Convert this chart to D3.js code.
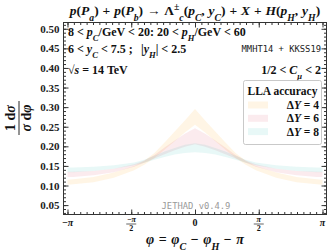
<!DOCTYPE html>
<html>
<head>
<meta charset="utf-8">
<script src="https://cdn.jsdelivr.net/npm/d3@7/dist/d3.min.js"></script>
<style>
  body { margin: 0; background: #fff; }
  svg { display: block; }
  text { font-family: "Liberation Serif", "DejaVu Serif", serif; fill: #111; }
  .mono { font-family: "DejaVu Sans Mono", "Liberation Mono", monospace; }
</style>
</head>
<body>
<div id="chart"></div>
<script>
// azimuthal angle points (rad)
var phi = [-3.1416, -3.0, -2.5, -2.0, -1.5, -1.25, -1.0, -0.75, -0.5, -0.25, 0,
           0.25, 0.5, 0.75, 1.0, 1.25, 1.5, 2.0, 2.5, 3.0, 3.1416]

// uncertainty bands (lower / upper) per rapidity interval
var dy4Lo = [0.102, 0.103, 0.108, 0.120, 0.139, 0.153, 0.170, 0.191, 0.213, 0.235, 0.255,
             0.235, 0.213, 0.191, 0.170, 0.153, 0.139, 0.120, 0.108, 0.103, 0.102]
var dy4Hi = [0.115, 0.116, 0.122, 0.133, 0.150, 0.163, 0.183, 0.210, 0.238, 0.266, 0.295,
             0.266, 0.238, 0.210, 0.183, 0.163, 0.150, 0.133, 0.122, 0.116, 0.115]
var dy6Lo = [0.122, 0.122, 0.126, 0.134, 0.148, 0.158, 0.169, 0.180, 0.190, 0.199, 0.205,
             0.199, 0.190, 0.180, 0.169, 0.158, 0.148, 0.134, 0.126, 0.122, 0.122]
var dy6Hi = [0.135, 0.135, 0.137, 0.143, 0.154, 0.164, 0.178, 0.197, 0.215, 0.232, 0.246,
             0.232, 0.215, 0.197, 0.178, 0.164, 0.154, 0.143, 0.137, 0.135, 0.135]
var dy8Lo = [0.134, 0.134, 0.137, 0.143, 0.152, 0.158, 0.166, 0.173, 0.179, 0.183, 0.185,
             0.183, 0.179, 0.173, 0.166, 0.158, 0.152, 0.143, 0.137, 0.134, 0.134]
var dy8Hi = [0.146, 0.146, 0.148, 0.152, 0.159, 0.166, 0.176, 0.187, 0.196, 0.204, 0.208,
             0.204, 0.196, 0.187, 0.176, 0.166, 0.159, 0.152, 0.148, 0.146, 0.146]

var seriesNames = ['\u0394Y = 4', '\u0394Y = 6', '\u0394Y = 8']
var seriesColors = ['rgb(255,160,20)', 'rgb(215,30,70)', 'rgb(0,175,165)']

var yTicks = [0.05, 0.10, 0.15, 0.20, 0.25, 0.30, 0.35, 0.40, 0.45, 0.50]
var xTicks = [-Math.PI, -Math.PI / 2, 0, Math.PI / 2, Math.PI]

var W = 335, H = 251
var margin = { top: 22.5, right: 8.5, bottom: 36.5, left: 63.5 }

var svg = d3.select('#chart').append('svg')
    .attr('width', W)
    .attr('height', H)

var x = d3.scaleLinear().domain([-3.24, 3.24]).range([margin.left, W - margin.right])
var y = d3.scaleLinear().domain([0.026, 0.516]).range([H - margin.bottom, margin.top])

// bands
var bands = [[dy4Lo, dy4Hi], [dy6Lo, dy6Hi], [dy8Lo, dy8Hi]]
var area = d3.area()
    .x(function (d) { return x(d.p) })
    .y0(function (d) { return y(d.lo) })
    .y1(function (d) { return y(d.hi) })

bands.forEach(function (b, i) {
    var pts = phi.map(function (p, k) { return { p: p, lo: b[0][k], hi: b[1][k] } })
    svg.append('path')
        .datum(pts)
        .attr('d', area)
        .style('fill', seriesColors[i])
        .style('fill-opacity', i === 0 ? 0.11 : 0.09)
})

// frame
svg.append('rect')
    .attr('x', margin.left).attr('y', margin.top)
    .attr('width', W - margin.left - margin.right)
    .attr('height', H - margin.top - margin.bottom)
    .style('fill', 'none').style('stroke', '#333').style('stroke-width', 1)

// y axis ticks, left and right
var yMinor = d3.range(0.03, 0.515, 0.01)
var gyl = svg.append('g').attr('transform', 'translate(' + margin.left + ',0)')
gyl.call(d3.axisLeft(y).tickValues(yMinor).tickSizeInner(-2.5).tickSizeOuter(0).tickFormat(''))
gyl.call(function (g) { g.select('.domain').remove() })
var gylMaj = svg.append('g').attr('transform', 'translate(' + margin.left + ',0)')
gylMaj.call(d3.axisLeft(y).tickValues(yTicks).tickSizeInner(-5).tickSizeOuter(0)
    .tickPadding(4).tickFormat(d3.format('.2f')))
gylMaj.select('.domain').remove()
gylMaj.selectAll('text')
    .style('font-family', '"Liberation Serif", serif')
    .style('font-size', '11px').style('font-weight', 'bold').style('fill', '#222')

var gyr = svg.append('g').attr('transform', 'translate(' + (W - margin.right) + ',0)')
gyr.call(d3.axisRight(y).tickValues(yMinor).tickSizeInner(-2.5).tickSizeOuter(0).tickFormat(''))
gyr.select('.domain').remove()
var gyr2 = svg.append('g').attr('transform', 'translate(' + (W - margin.right) + ',0)')
gyr2.call(d3.axisRight(y).tickValues(yTicks).tickSizeInner(-5).tickSizeOuter(0).tickFormat(''))
gyr2.select('.domain').remove()

// x axis ticks, bottom and top
var xMinor = d3.range(-20, 21).map(function (k) { return k * Math.PI / 20 })
;[['bottom', H - margin.bottom], ['top', margin.top]].forEach(function (s) {
    var ax = s[0] === 'bottom' ? d3.axisBottom : d3.axisTop
    var g1 = svg.append('g').attr('transform', 'translate(0,' + s[1] + ')')
    g1.call(ax(x).tickValues(xMinor).tickSizeInner(-2.5).tickSizeOuter(0).tickFormat(''))
    g1.select('.domain').remove()
    var g2 = svg.append('g').attr('transform', 'translate(0,' + s[1] + ')')
    g2.call(ax(x).tickValues(xTicks).tickSizeInner(-5).tickSizeOuter(0).tickFormat(''))
    g2.select('.domain').remove()
})
svg.selectAll('.tick line').style('stroke', '#333')

// x tick labels
var xl = svg.append('g').style('font-size', '10px').style('font-weight', 'bold')
var xLab = [['\u2212\u03c0', null], ['\u2212\u03c0', '2'], ['0', null], ['\u03c0', '2'], ['\u03c0', null]]
xTicks.forEach(function (t, i) {
    var cx = x(t)
    if (xLab[i][1] === null) {
        xl.append('text').attr('x', cx).attr('y', 226)
            .attr('text-anchor', 'middle')
            .style('font-style', xLab[i][0] === '0' ? 'normal' : 'italic')
            .text(xLab[i][0])
    } else {
        xl.append('text').attr('x', cx).attr('y', 222).attr('text-anchor', 'middle')
            .style('font-size', '8px').style('font-style', 'italic').text(xLab[i][0])
        xl.append('line').attr('x1', cx - 5).attr('x2', cx + 5)
            .attr('y1', 224).attr('y2', 224).style('stroke', '#222').style('stroke-width', 0.7)
        xl.append('text').attr('x', cx).attr('y', 231).attr('text-anchor', 'middle')
            .style('font-size', '8px').text(xLab[i][1])
    }
})

// rich text helper
function rich(sel, parts) {
    parts.forEach(function (p) {
        var t = sel.append('tspan').text(p[0])
        if (p[1] && p[1].indexOf('i') >= 0) t.style('font-style', 'italic')
        if (p[1] && p[1].indexOf('s') >= 0) t.attr('baseline-shift', 'sub').style('font-size', '72%')
        if (p[1] && p[1].indexOf('u') >= 0) t.attr('baseline-shift', 'super').style('font-size', '72%')
    })
    return sel
}

// x axis title
rich(svg.append('text').attr('x', 195).attr('y', 244).attr('text-anchor', 'middle')
    .style('font-size', '14px').style('font-weight', 'bold').style('word-spacing', '1px'),
    [['\u03c6', 'i'], [' = '], ['\u03c6', 'i'], ['C', 'is'], [' \u2212 '], ['\u03c6', 'i'], ['H', 'is'], [' \u2212 '], ['\u03c0', 'i']])

// y axis title (fraction)
var yt = svg.append('g').attr('transform', 'translate(19,118) rotate(-90)')
    .style('font-size', '14px').style('font-weight', 'bold')
rich(yt.append('text').attr('x', 0).attr('y', -4).attr('text-anchor', 'middle'),
    [['1 d'], ['\u03c3', 'i']])
yt.append('line').attr('x1', -17).attr('x2', 17).attr('y1', 0).attr('y2', 0)
    .style('stroke', '#111').style('stroke-width', 0.9)
rich(yt.append('text').attr('x', 0).attr('y', 12).attr('text-anchor', 'middle'),
    [['\u03c3', 'i'], [' d'], ['\u03c6', 'i']])

// title
rich(svg.append('text').attr('x', 195).attr('y', 15).attr('text-anchor', 'middle')
    .style('font-size', '13.5px').style('font-weight', 'bold').style('word-spacing', '0.5px'),
    [['p', 'i'], ['('], ['P', 'i'], ['a', 'is'], [') + '], ['p', 'i'], ['('], ['P', 'i'], ['b', 'is'],
     [') \u2192 \u039b'], ['\u00b1', 'u'], ['c', 'is'], ['('], ['p', 'i'], ['C', 'is'], [', '], ['y', 'i'], ['C', 'is'],
     [') + '], ['X', 'i'], [' + '], ['H', 'i'], ['('], ['p', 'i'], ['H', 'is'], [', '], ['y', 'i'], ['H', 'is'], [')']])

// kinematic cuts
var info = svg.append('g').style('font-size', '12px').style('font-weight', 'bold')
rich(info.append('text').attr('x', 68).attr('y', 36),
    [['8 < '], ['p', 'i'], ['C', 'is'], ['/GeV < 20:  20 < '], ['p', 'i'], ['H', 'is'], ['/GeV < 60']])
rich(info.append('text').attr('x', 68).attr('y', 53),
    [['6 < '], ['y', 'i'], ['C', 'is'], [' < 7.5 ;']])
rich(info.append('text').attr('x', 141).attr('y', 53),
    [['|'], ['y', 'i'], ['H', 'is'], ['| < 2.5']])
rich(info.append('text').attr('x', 68).attr('y', 74),
    [['\u221a'], ['s', 'i'], [' = 14 TeV']])
rich(info.append('text').attr('x', 321).attr('y', 74).attr('text-anchor', 'end'),
    [['1/2 < '], ['C', 'i'], ['\u03bc', 'is'], [' < 2']])

svg.append('text').attr('class', 'mono').attr('x', 321).attr('y', 52)
    .attr('text-anchor', 'end').style('font-size', '8.8px').style('fill', '#222')
    .text('MMHT14 + KKSS19')

svg.append('text').attr('class', 'mono').attr('x', 196).attr('y', 209)
    .attr('text-anchor', 'middle').style('font-size', '8.8px').style('fill', '#999')
    .text('JETHAD v0.4.9')

// legend
var lg = svg.append('g')
lg.append('rect').attr('x', 243.5).attr('y', 80.5).attr('width', 78).attr('height', 64)
    .attr('rx', 2).style('fill', '#fff').style('stroke', '#bbb').style('stroke-width', 0.8)
lg.append('text').attr('x', 282.5).attr('y', 95).attr('text-anchor', 'middle')
    .style('font-size', '11.5px').style('font-weight', 'bold').text('LLA accuracy')
seriesNames.forEach(function (n, i) {
    var yy = 105 + i * 13.3
    lg.append('rect').attr('x', 248).attr('y', yy - 3.5).attr('width', 20).attr('height', 7)
        .style('fill', seriesColors[i]).style('fill-opacity', i === 0 ? 0.11 : 0.09)
    rich(lg.append('text').attr('x', 319).attr('y', yy + 4).attr('text-anchor', 'end')
        .style('font-size', '11.5px').style('font-weight', 'bold'),
        [['\u0394'], ['Y', 'i'], [n.slice(2)]])
})
</script>
</body>
</html>
